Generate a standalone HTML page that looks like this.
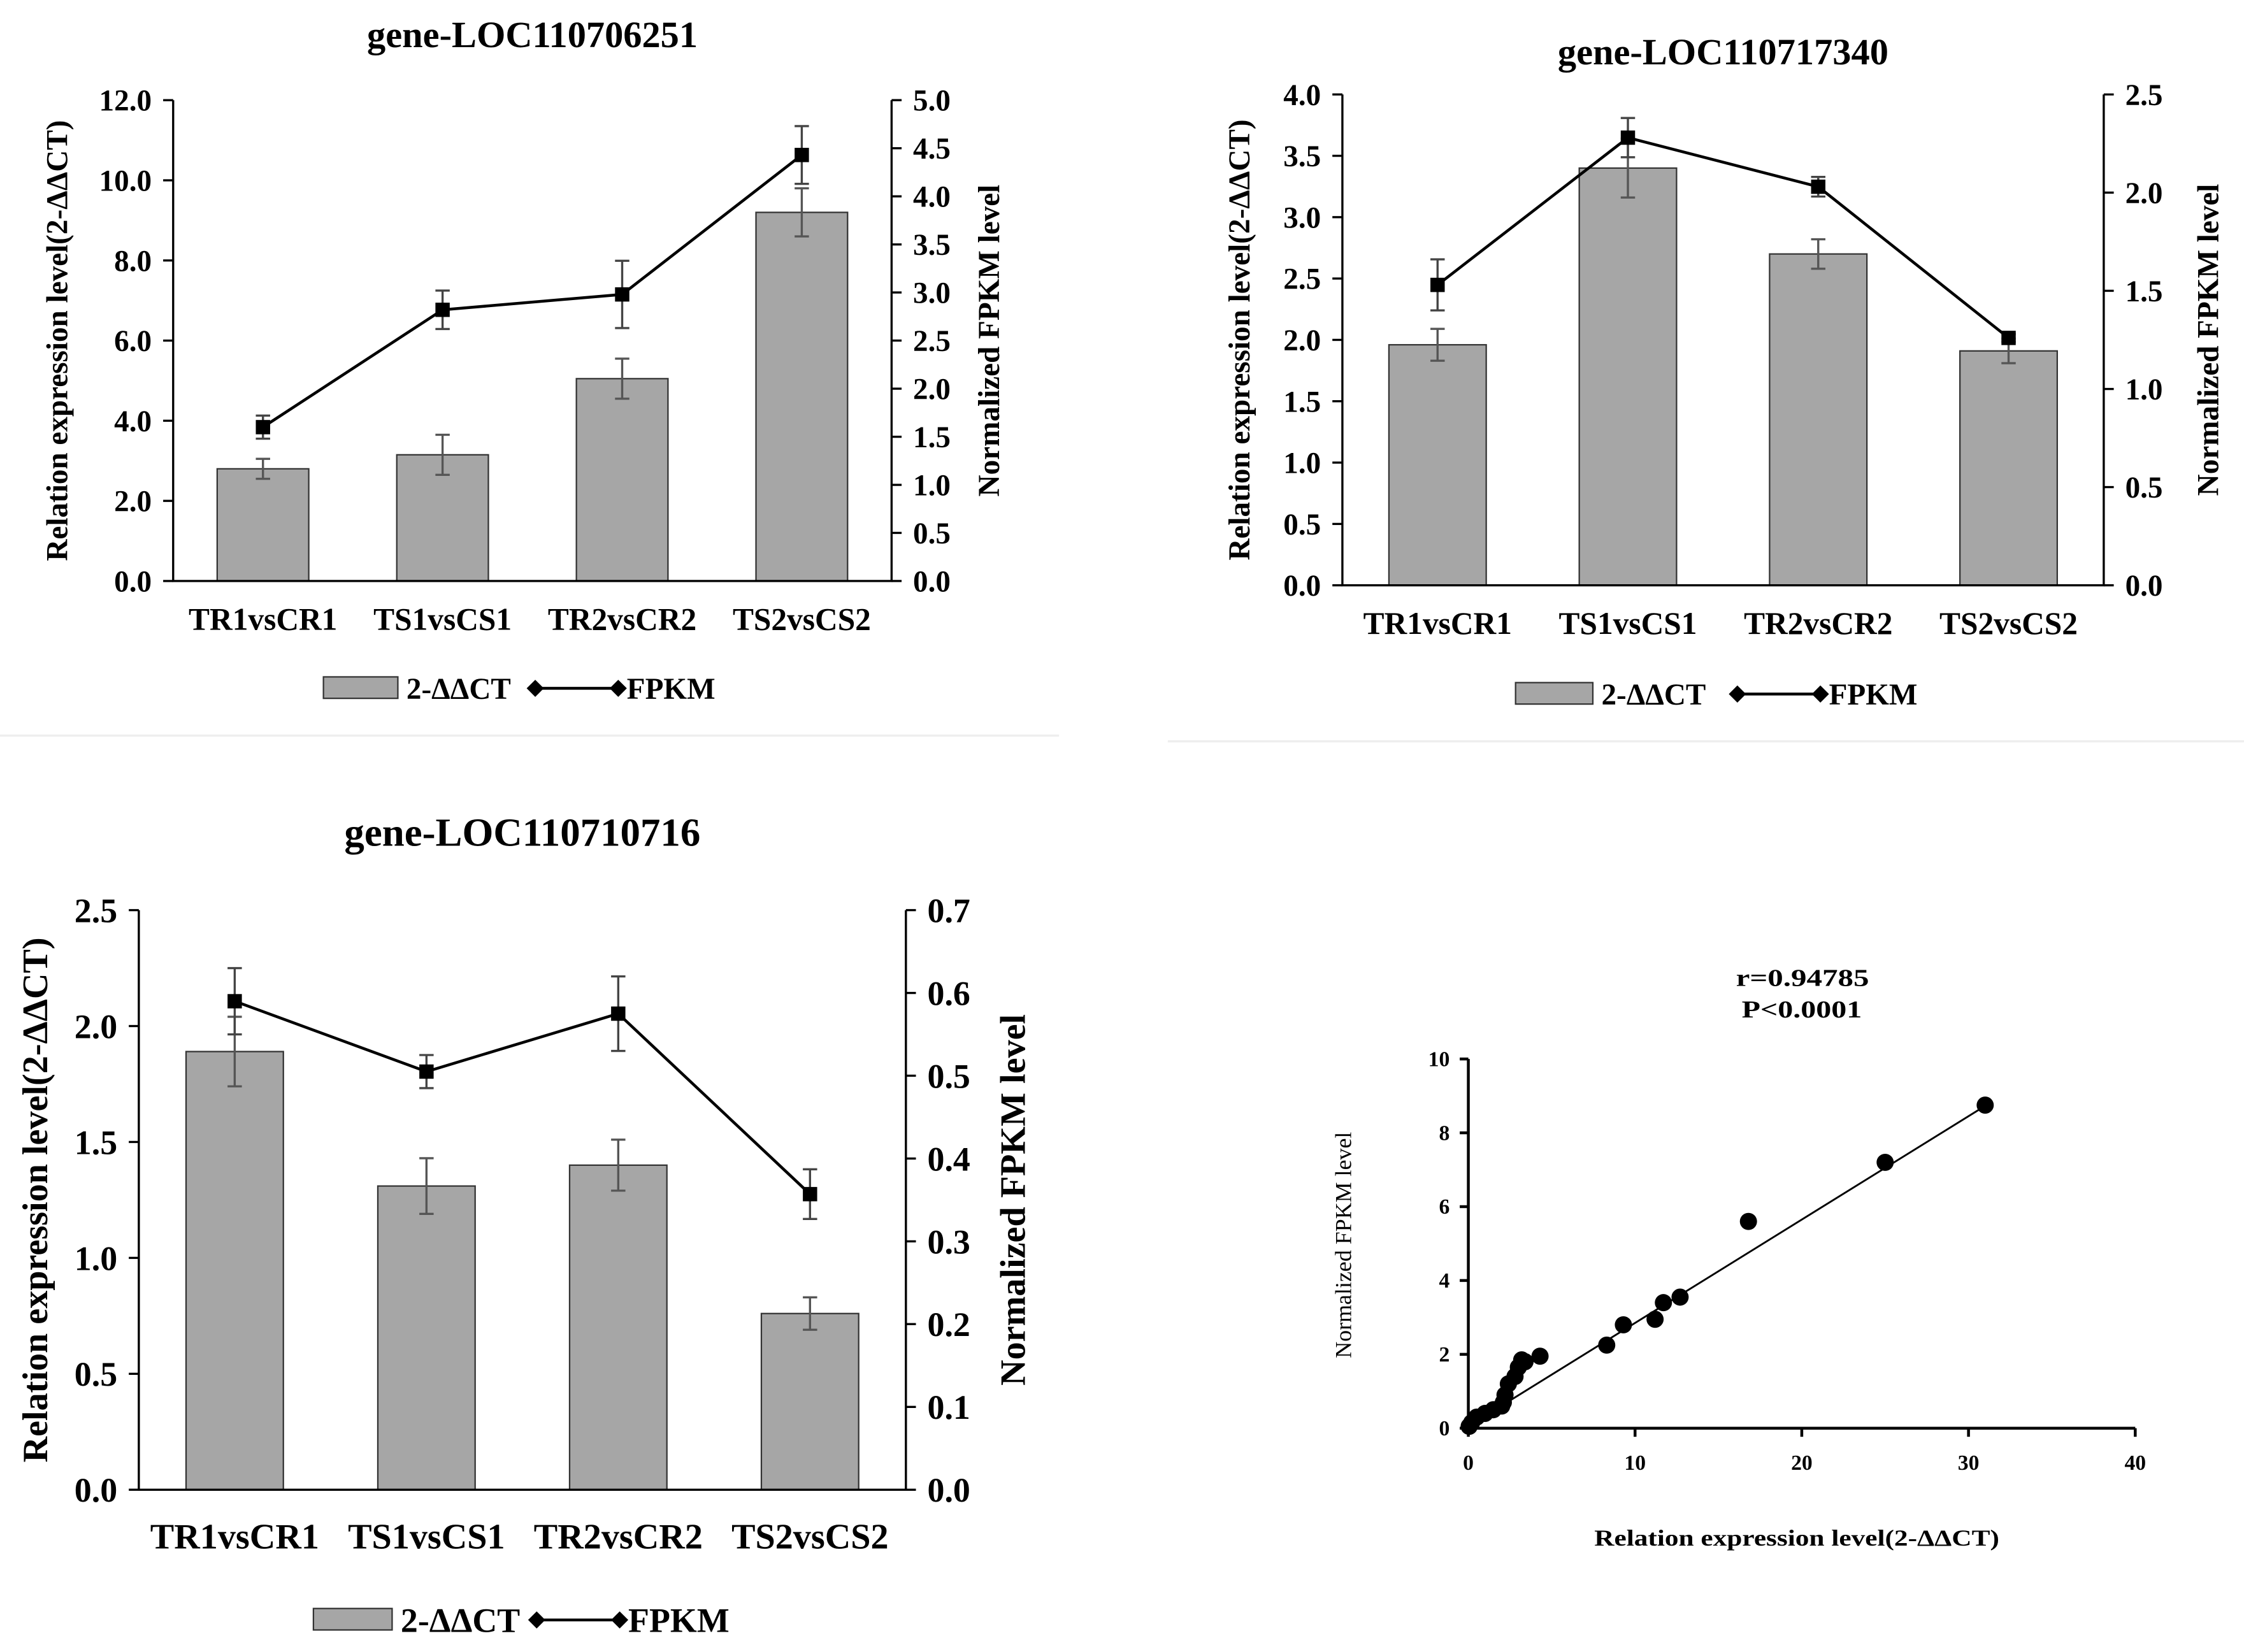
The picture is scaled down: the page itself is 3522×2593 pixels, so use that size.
<!DOCTYPE html>
<html><head><meta charset="utf-8"><style>
html,body{margin:0;padding:0;background:#fff;}
svg{display:block;font-family:"Liberation Serif",serif;font-weight:bold;}
</style></head><body>
<svg id="root" width="3522" height="2593" viewBox="0 0 1568 1154.4" preserveAspectRatio="none" xmlns="http://www.w3.org/2000/svg">
<rect width="1568" height="1155" fill="#fff"/>
<line x1="0" y1="514" x2="740" y2="514" stroke="#eee" stroke-width="1.5"/>
<line x1="816" y1="518" x2="1568" y2="518" stroke="#eee" stroke-width="1.5"/>
</svg>
<script>
const categories = ["TR1vsCR1","TS1vsCS1","TR2vsCR2","TS2vsCS2"];
const c1Bars = [2.8, 3.15, 5.05, 9.2];
const c1BarErr = [0.25, 0.5, 0.5, 0.6];
const c1Fpkm = [1.6, 2.82, 2.98, 4.43];
const c1FpkmErr = [0.12, 0.2, 0.35, 0.3];
const c1LeftTicks = ["0.0","2.0","4.0","6.0","8.0","10.0","12.0"];
const c1RightTicks = ["0.0","0.5","1.0","1.5","2.0","2.5","3.0","3.5","4.0","4.5","5.0"];
const c2Bars = [1.96, 3.4, 2.7, 1.91];
const c2BarErr = [0.13, 0.24, 0.12, 0.1];
const c2Fpkm = [1.53, 2.28, 2.03, 1.26];
const c2FpkmErr = [0.13, 0.1, 0.05, 0.02];
const c2LeftTicks = ["0.0","0.5","1.0","1.5","2.0","2.5","3.0","3.5","4.0"];
const c2RightTicks = ["0.0","0.5","1.0","1.5","2.0","2.5"];
const c3Bars = [1.89, 1.31, 1.4, 0.76];
const c3BarErr = [0.15, 0.12, 0.11, 0.07];
const c3Fpkm = [0.59, 0.505, 0.575, 0.357];
const c3FpkmErr = [0.04, 0.02, 0.045, 0.03];
const c3LeftTicks = ["0.0","0.5","1.0","1.5","2.0","2.5"];
const c3RightTicks = ["0.0","0.1","0.2","0.3","0.4","0.5","0.6","0.7"];
const scatterX = [31,25,16.8,12.7,11.7,11.2,9.3,8.3,4.3,3.4,3.2,3,2.8,2.4,2.2,2.1,2,1.5,1,0.5,0.2,0.05];
const scatterY = [8.75,7.2,5.6,3.55,3.4,2.95,2.8,2.25,1.95,1.8,1.85,1.65,1.4,1.2,0.9,0.7,0.6,0.5,0.4,0.3,0.15,0.05];
const scatterXTicks = [0,10,20,30,40];
const scatterYTicks = [0,2,4,6,8,10];
const fitSlope = 0.28, fitIntercept = 0.05;

const NS="http://www.w3.org/2000/svg";
const root=document.getElementById('root');
function mk(tag,attrs,parent,text){const e=document.createElementNS(NS,tag);for(const k in attrs)e.setAttribute(k,attrs[k]);if(text!==undefined)e.textContent=text;(parent||root).appendChild(e);return e;}

function chart(cfg){
  const g=mk('g',{});
  
  
  const lmax=parseFloat(cfg.lt[cfg.lt.length-1]), rmax=parseFloat(cfg.rt[cfg.rt.length-1]);
  const yL=v=>cfg.y0-(v/lmax)*(cfg.y0-cfg.yTop);
  const yR=v=>cfg.y0-(v/rmax)*(cfg.y0-cfg.yTop);
  const step=(cfg.xR-cfg.xL)/4;
  const cx=i=>cfg.xL+step*(i+0.5);
  let t=mk('text',{x:(cfg.xL+cfg.xR)/2,y:cfg.titleY,'text-anchor':'middle','font-size':cfg.titleFs},g,cfg.title);
  
  cfg.bars.forEach((v,i)=>{
    const r=mk('rect',{x:cx(i)-cfg.bw/2,y:yL(v),width:cfg.bw,height:cfg.y0-yL(v),fill:'#a6a6a6',stroke:'#333','stroke-width':1},g);
    
    
    const e=cfg.barErr[i];
    mk('path',{d:`M${cx(i)} ${yL(v+e)}V${yL(v-e)}M${cx(i)-5} ${yL(v+e)}h10M${cx(i)-5} ${yL(v-e)}h10`,stroke:'#555','stroke-width':1.5,fill:'none'},g);
  });
  mk('path',{d:`M${cfg.xL} ${cfg.yTop}V${cfg.y0}H${cfg.xR}V${cfg.yTop}`,stroke:'#000','stroke-width':1.5,fill:'none'},g);
  const tf=cfg.tickFs;
  cfg.lt.forEach(s=>{const y=yL(parseFloat(s));mk('line',{x1:cfg.xL-7,x2:cfg.xL,y1:y,y2:y,stroke:'#000','stroke-width':1.5},g);
    const tt=mk('text',{x:cfg.xL-15,y:y+tf*0.35,'text-anchor':'end','font-size':tf},g,s);});
  cfg.rt.forEach(s=>{const y=yR(parseFloat(s));mk('line',{x1:cfg.xR,x2:cfg.xR+7,y1:y,y2:y,stroke:'#000','stroke-width':1.5},g);
    const tt=mk('text',{x:cfg.xR+15,y:y+tf*0.35,'text-anchor':'start','font-size':tf},g,s);});
  categories.forEach((c,i)=>{const tt=mk('text',{x:cx(i),y:cfg.catY,'text-anchor':'middle','font-size':cfg.catFs},g,c);});
  let yt=mk('text',{x:0,y:0,'text-anchor':'middle','font-size':cfg.axisFs,transform:`translate(${cfg.ltX},${(cfg.y0+cfg.yTop)/2}) rotate(-90)`},g,'Relation expression level(2-ΔΔCT)');
  
  yt=mk('text',{x:0,y:0,'text-anchor':'middle','font-size':cfg.axisFs,transform:`translate(${cfg.rtX},${(cfg.y0+cfg.yTop)/2}) rotate(-90)`},g,'Normalized FPKM level');
  
  const pts=cfg.fpkm.map((v,i)=>`${cx(i)},${yR(v)}`).join(' ');
  const pl=mk('polyline',{points:pts,fill:'none',stroke:'#000','stroke-width':2},g);
  
  cfg.fpkm.forEach((v,i)=>{const e=cfg.fpkmErr[i];
    mk('path',{d:`M${cx(i)} ${yR(v+e)}V${yR(v-e)}M${cx(i)-5} ${yR(v+e)}h10M${cx(i)-5} ${yR(v-e)}h10`,stroke:'#444','stroke-width':1.5,fill:'none'},g);
    const p=mk('rect',{x:cx(i)-5,y:yR(v)-5,width:10,height:10,fill:'#000'},g);
    });
  const lg=mk('g',{},g);
  const lf=cfg.legFs;
  mk('rect',{x:cfg.legX,y:cfg.legY-8,width:cfg.legBoxW,height:15,fill:'#a6a6a6',stroke:'#333','stroke-width':1},lg);
  mk('text',{x:cfg.legX+cfg.legBoxW+6,y:cfg.legY+lf*0.35,'font-size':lf},lg,'2-ΔΔCT');
  mk('line',{x1:cfg.legLineX,x2:cfg.legLineX+58,y1:cfg.legY,y2:cfg.legY,stroke:'#000','stroke-width':2},lg);
  [cfg.legLineX,cfg.legLineX+58].forEach(x=>mk('path',{d:`M${x} ${cfg.legY-6}l6 6l-6 6l-6 -6z`,fill:'#000'},lg));
  mk('text',{x:cfg.legLineX+64,y:cfg.legY+lf*0.35,'font-size':lf},lg,'FPKM');
}
chart({name:'chart-loc110706251',title:'gene-LOC110706251',xL:121,xR:623,y0:406,yTop:70,bw:64,titleY:33,catY:440,ltX:47,rtX:698,
  tickFs:21,catFs:22,titleFs:26,axisFs:21,legFs:21,
  bars:c1Bars,barErr:c1BarErr,fpkm:c1Fpkm,fpkmErr:c1FpkmErr,lt:c1LeftTicks,rt:c1RightTicks,legX:226,legY:481,legBoxW:52,legLineX:374});
chart({name:'chart-loc110717340',title:'gene-LOC110717340',xL:938,xR:1470,y0:409,yTop:66,bw:68,titleY:45,catY:443,ltX:873,rtX:1550,
  tickFs:21,catFs:22,titleFs:26,axisFs:21,legFs:21,
  bars:c2Bars,barErr:c2BarErr,fpkm:c2Fpkm,fpkmErr:c2FpkmErr,lt:c2LeftTicks,rt:c2RightTicks,legX:1059,legY:485,legBoxW:54,legLineX:1214});
chart({name:'chart-loc110710716',title:'gene-LOC110710716',xL:97,xR:633,y0:1041,yTop:636,bw:68,titleY:591,catY:1082,ltX:33,rtX:716,
  tickFs:24,catFs:25,titleFs:28,axisFs:25,legFs:24,
  bars:c3Bars,barErr:c3BarErr,fpkm:c3Fpkm,fpkmErr:c3FpkmErr,lt:c3LeftTicks,rt:c3RightTicks,legX:219,legY:1132,legBoxW:55,legLineX:375});

(function(){
  const g=mk('g',{});
  
  
  const X0=1026,X1=1492,Y0=998,Y1=740;
  const sx=v=>X0+v/40*(X1-X0), sy=v=>Y0-v/10*(Y0-Y1);
  mk('path',{d:`M${X0} ${Y1}V${Y0}H${X1}`,stroke:'#000','stroke-width':2,fill:'none'},g);
  scatterXTicks.forEach(v=>{mk('line',{x1:sx(v),x2:sx(v),y1:Y0,y2:Y0+6,stroke:'#000','stroke-width':2},g);
    const t=mk('text',{x:sx(v),y:Y0+29,'text-anchor':'middle','font-size':15},g,String(v));});
  scatterYTicks.forEach(v=>{mk('line',{x1:X0-6,x2:X0,y1:sy(v),y2:sy(v),stroke:'#000','stroke-width':2},g);
    const t=mk('text',{x:X0-13,y:sy(v)+5,'text-anchor':'end','font-size':15},g,String(v));});
  const fl=mk('line',{x1:sx(2.5),y1:sy(fitSlope*2.5+fitIntercept),x2:sx(31),y2:sy(fitSlope*31+fitIntercept),stroke:'#000','stroke-width':1.3},g);
  
  scatterX.forEach((v,i)=>{const c=mk('ellipse',{cx:sx(v),cy:sy(scatterY[i]),rx:6,ry:6,fill:'#000'},g);
    });
  let t=mk('text',{x:1213,y:689,'font-size':17,textLength:93,lengthAdjust:'spacingAndGlyphs'},g,'r=0.94785');
  t=mk('text',{x:1217,y:711,'font-size':17,textLength:84,lengthAdjust:'spacingAndGlyphs'},g,'P<0.0001');
  t=mk('text',{x:1114,y:1080,'font-size':16,textLength:283,lengthAdjust:'spacingAndGlyphs'},g,'Relation expression level(2-ΔΔCT)');
  t=mk('text',{x:0,y:0,'text-anchor':'middle','font-size':16,'font-weight':'normal',transform:'translate(944,870) rotate(-90)'},g,'Normalized FPKM level');
})();
</script>
</body></html>
